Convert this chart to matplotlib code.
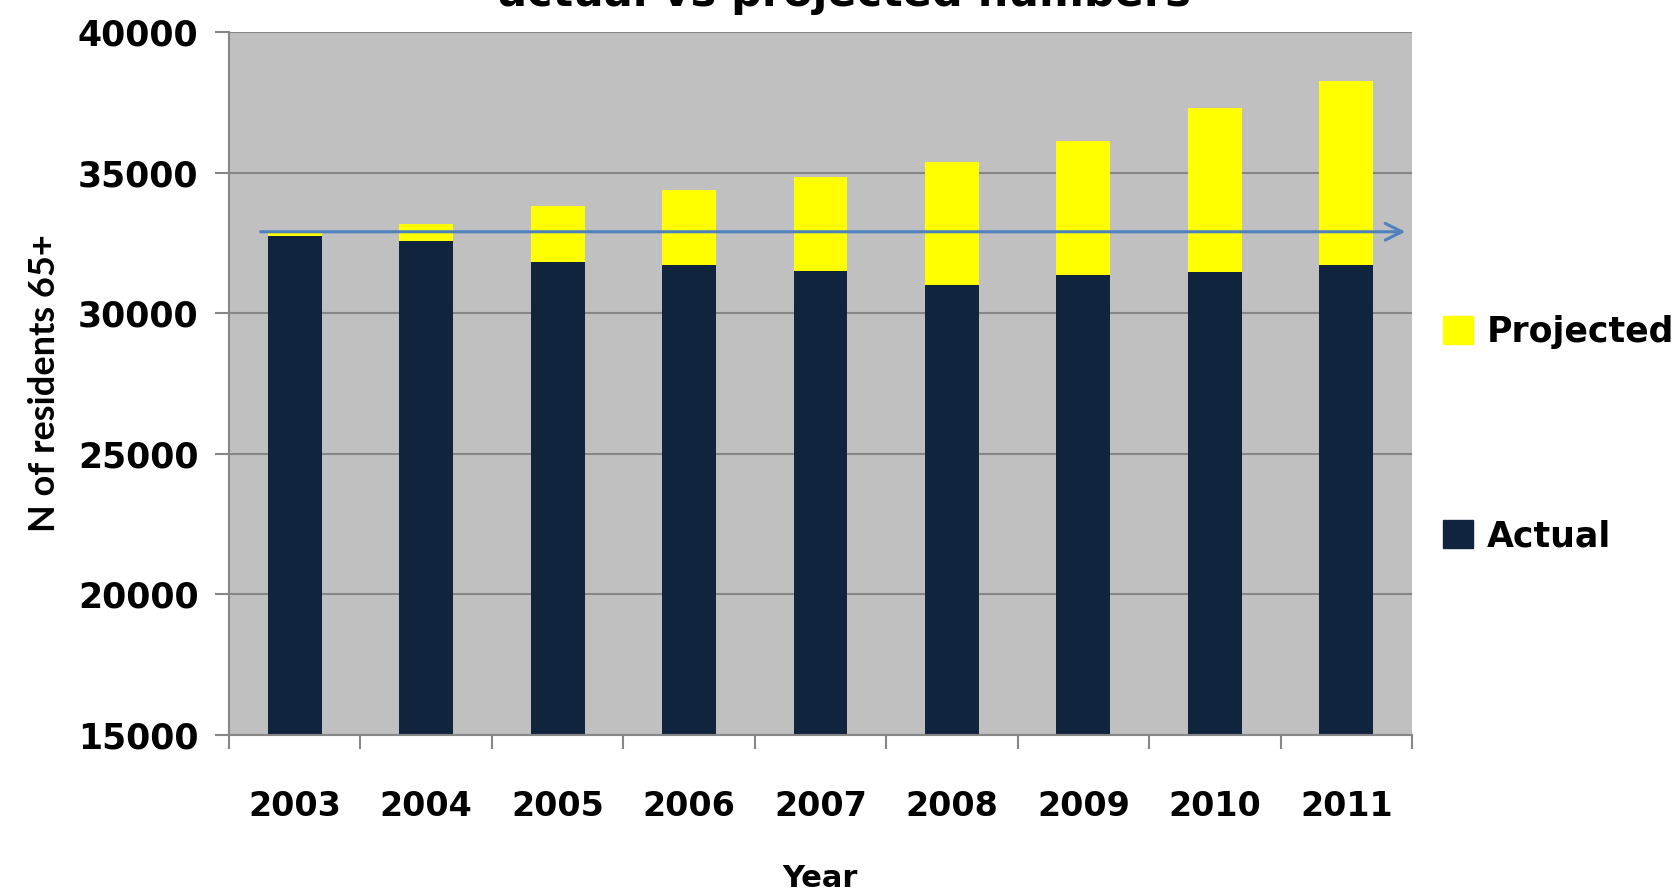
# Residents aged 65+: actual vs projected numbers
import matplotlib.pyplot as plt
import matplotlib.patches as mpatches
import numpy as np

years = ["2003", "2004", "2005", "2006", "2007", "2008", "2009", "2010", "2011"]
actual = [32750, 32580, 31820, 31720, 31510, 30990, 31370, 31450, 31720]
projected_total = [32880, 33180, 33800, 34400, 34860, 35400, 36130, 37310, 38270]
baseline_2003 = 32900

navy = "#10243E"
yellow = "#FFFF00"
plot_bg = "#C0C0C0"
grid_col = "#868686"
arrow_col = "#4F81BD"

projected_extra = [t - a for t, a in zip(projected_total, actual)]
x = np.arange(len(years))

fig = plt.figure(figsize=(16.76, 8.96), dpi=100)
ax = fig.add_axes([0.1366, 0.180, 0.7059, 0.784])
ax.set_facecolor(plot_bg)

ax.bar(x, actual, width=0.41, color=navy, label="Actual", zorder=2)
ax.bar(x, projected_extra, width=0.41, bottom=actual, color=yellow,
       label="Projected", zorder=2)

# line at the 2003 level
ax.annotate("", xy=(8.47, baseline_2003), xytext=(-0.28, baseline_2003),
            arrowprops=dict(arrowstyle="->", color=arrow_col, lw=2.2,
                            mutation_scale=30), zorder=3)

ax.set_ylim(15000, 40000)
ax.set_xlim(-0.5, 8.5)
ax.set_yticks(range(15000, 40001, 5000))
ax.yaxis.grid(True, color=grid_col, lw=1.5, zorder=1)
ax.set_axisbelow(True)

ax.set_xticks(x)
ax.set_xticklabels(years)
ax.set_xticks(np.arange(-0.5, 9, 1), minor=True)
ax.tick_params(axis="x", which="major", length=0, pad=40)
ax.tick_params(axis="x", which="minor", length=10, color=grid_col, width=1.5)
ax.tick_params(axis="y", length=10, color=grid_col, width=1.5, pad=12)
for lab in ax.get_xticklabels():
    lab.set_fontsize(24)
    lab.set_fontweight("bold")
for lab in ax.get_yticklabels():
    lab.set_fontsize(25)
    lab.set_fontweight("bold")

for side in ["top", "right"]:
    ax.spines[side].set_visible(False)
for side in ["left", "bottom"]:
    ax.spines[side].set_color(grid_col)
    ax.spines[side].set_linewidth(1.5)

ax.set_ylabel("N of residents 65+", fontsize=26, family="Lato",
              fontweight="bold", labelpad=12)
ax.set_xlabel("Year", fontsize=22, fontweight="bold", labelpad=29)

fig.text(0.504, 1 - 6 / 896, "actual vs projected numbers", ha="center",
         va="baseline", fontsize=31, fontweight="bold")

handles = [mpatches.Patch(color=yellow), mpatches.Patch(color=navy)]
fig.legend(handles, ["Projected", "Actual"], loc="center left",
           bbox_to_anchor=(1443 / 1676, 1 - 434 / 896), frameon=False,
           borderpad=0, borderaxespad=0, handlelength=0.85, handleheight=0.85,
           handletextpad=0.4, labelspacing=4.9,
           prop={"size": 25, "weight": "bold"})

fig.savefig("out.png", dpi=100)
